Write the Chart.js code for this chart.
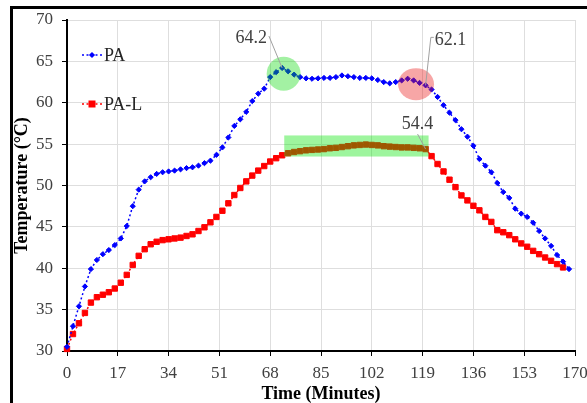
<!DOCTYPE html>
<html>
<head>
<meta charset="utf-8">
<script src="https://cdn.jsdelivr.net/npm/chart.js@4.4.1/dist/chart.umd.min.js"></script>
<style>
  html, body { margin: 0; padding: 0; background: #fff; overflow: hidden; }
  #area { position: absolute; left: 0; top: 0; width: 620px; height: 410px; }
  #moldura { position: absolute; left: 10px; top: 6px; width: 620px; height: 430px; border: 3px solid #000; pointer-events: none; }
</style>
</head>
<body>
<div id="area"><canvas id="grafico" width="620" height="410"></canvas></div>
<div id="moldura"></div>
<script>
// Dados (tempo em minutos, temperatura em °C)
const minutos = [
    0, 2, 4, 6, 8, 10, 12, 14, 16, 18,
    20, 22, 24, 26, 28, 30, 32, 34, 36, 38,
    40, 42, 44, 46, 48, 50, 52, 54, 56, 58,
    60, 62, 64, 66, 68, 70, 72, 74, 76, 78,
    80, 82, 84, 86, 88, 90, 92, 94, 96, 98,
    100, 102, 104, 106, 108, 110, 112, 114, 116, 118,
    120, 122, 124, 126, 128, 130, 132, 134, 136, 138,
    140, 142, 144, 146, 148, 150, 152, 154, 156, 158,
    160, 162, 164, 166, 168
]

const tempPA = [
    30.5, 33.0, 35.4, 37.8, 39.9, 41.0, 41.7, 42.2, 42.8, 43.6,
    45.1, 47.5, 49.5, 50.5, 51.0, 51.4, 51.6, 51.7, 51.8, 51.95,
    52.1, 52.2, 52.4, 52.7, 53.0, 53.7, 54.6, 55.8, 57.2, 58.0,
    58.9, 60.2, 61.1, 61.7, 63.1, 63.7, 64.2, 63.8, 63.4, 63.1,
    62.95, 62.9, 62.95, 63.0, 63.0, 63.1, 63.3, 63.2, 63.1, 63.0,
    63.0, 62.95, 62.75, 62.5, 62.35, 62.5, 62.7, 62.9, 62.7, 62.4,
    62.1, 61.6, 60.7, 59.7, 58.8, 57.9, 56.8, 55.9, 54.8, 53.2,
    52.4, 51.6, 50.3, 49.2, 48.5, 47.2, 46.6, 46.2, 45.5, 44.5,
    43.6, 42.7, 41.6, 40.8, 39.9
]

const tempPAL = [
    30.25, 32.05, 33.35, 34.6, 35.85, 36.5, 36.8, 37.1, 37.55, 38.25,
    39.2, 40.4, 41.5, 42.3, 42.9, 43.2, 43.4, 43.5, 43.6, 43.7,
    43.9, 44.1, 44.5, 44.95, 45.55, 46.2, 46.95, 47.85, 48.85, 49.7,
    50.5, 51.2, 51.8, 52.35, 52.9, 53.3, 53.65, 53.9, 54.05, 54.15,
    54.25, 54.3, 54.35, 54.4, 54.5, 54.55, 54.65, 54.75, 54.85, 54.9,
    54.95, 54.9, 54.85, 54.75, 54.7, 54.65, 54.6, 54.6, 54.55, 54.5,
    54.4, 53.55, 52.6, 51.7, 50.7, 49.8, 48.8, 48.2, 47.55, 47.0,
    46.2, 45.6, 44.6, 44.35, 44.0, 43.5, 43.0, 42.6, 42.1, 41.7,
    41.3, 40.9, 40.5, 40.1, null
]

const ticksX = [0, 17, 34, 51, 68, 85, 102, 119, 136, 153, 170]
const ticksY = [30, 35, 40, 45, 50, 55, 60, 65, 70]

const fonte = 'Liberation Serif, Times New Roman, serif'
const corTexto = '#404040'

function pontos(valores){
    const lista = []
    for(let i = 0; i < minutos.length; i++){
        lista.push({ x: minutos[i], y: valores[i] })
    }
    return lista
}

// Marcacoes por cima das curvas
const rotulos = [
    { serie: 0, indice: 36, dx: -31, dy: -30 },
    { serie: 0, indice: 60, dx: 25, dy: -45 },
    { serie: 1, indice: 60, dx: -8, dy: -25 }
]

const circulos = [
    { x: 72.5, y: 63.5, rx: 17, ry: 17, cor: 'rgba(0, 215, 0, 0.36)' },
    { x: 116.8, y: 62.25, rx: 18, ry: 16, cor: 'rgba(235, 20, 20, 0.38)' }
]

const faixa = { x0: 72.7, x1: 121, y0: 53.5, y1: 56.05, cor: 'rgba(0, 230, 0, 0.38)' }

const destaques = {
    id: 'destaques',
    afterDatasetsDraw(chart){
        const ctx = chart.ctx
        const sx = chart.scales.x
        const sy = chart.scales.y

        ctx.save()
        for(const c of circulos){
            ctx.fillStyle = c.cor
            ctx.beginPath()
            ctx.ellipse(sx.getPixelForValue(c.x), sy.getPixelForValue(c.y), c.rx, c.ry, 0, 0, Math.PI * 2)
            ctx.fill()
        }

        const fx0 = sx.getPixelForValue(faixa.x0)
        const fx1 = sx.getPixelForValue(faixa.x1)
        const fy0 = sy.getPixelForValue(faixa.y1)
        const fy1 = sy.getPixelForValue(faixa.y0)
        ctx.fillStyle = faixa.cor
        ctx.fillRect(fx0, fy0, fx1 - fx0, fy1 - fy0)

        ctx.font = '18px ' + fonte
        ctx.textAlign = 'center'
        ctx.textBaseline = 'middle'
        for(const r of rotulos){
            const valor = chart.data.datasets[r.serie].data[r.indice]
            const px = sx.getPixelForValue(valor.x)
            const py = sy.getPixelForValue(valor.y)
            const tx = px + r.dx
            const ty = py + r.dy
            const texto = valor.y.toFixed(1)
            const w = ctx.measureText(texto).width

            // linha guia
            ctx.strokeStyle = '#a0a0a0'
            ctx.lineWidth = 1
            ctx.beginPath()
            if(r.dx < -20){
                ctx.moveTo(tx + w / 2 + 2, ty - 2)
            }else if(r.dx > 0){
                ctx.moveTo(tx - w / 2 - 1, ty - 3)
                ctx.lineTo(tx - w / 2 - 4, ty - 3)
            }else{
                ctx.moveTo(tx, ty + 10)
            }
            ctx.lineTo(px, py)
            ctx.stroke()

            ctx.fillStyle = corTexto
            ctx.fillText(texto, tx, ty)
        }
        ctx.restore()
    }
}

// Legenda desenhada dentro da area do grafico
const legenda = {
    id: 'legendaInterna',
    afterDraw(chart){
        const ctx = chart.ctx
        const a = chart.chartArea
        chart.data.datasets.forEach((ds, i) => {
            const y = a.top + 35 + i * 49
            const x0 = a.left + 15
            ctx.save()
            ctx.strokeStyle = ds.borderColor
            ctx.lineWidth = ds.borderWidth
            ctx.setLineDash(ds.borderDash)
            ctx.beginPath()
            ctx.moveTo(x0, y)
            ctx.lineTo(x0 + 20, y)
            ctx.stroke()
            ctx.setLineDash([])

            ctx.fillStyle = ds.backgroundColor
            ctx.beginPath()
            if(ds.pointStyle === 'rectRot'){
                const r = ds.pointRadius + 0.5
                ctx.moveTo(x0 + 10 - r, y)
                ctx.lineTo(x0 + 10, y - r)
                ctx.lineTo(x0 + 10 + r, y)
                ctx.lineTo(x0 + 10, y + r)
                ctx.closePath()
            }else{
                ctx.rect(x0 + 10 - 3.5, y - 3.5, 7, 7)
            }
            ctx.fill()

            ctx.fillStyle = '#262626'
            ctx.font = '18px ' + fonte
            ctx.textAlign = 'left'
            ctx.textBaseline = 'alphabetic'
            ctx.fillText(ds.label, x0 + 22, y + 6)
            ctx.restore()
        })
    }
}

const ctx = document.getElementById('grafico')

new Chart(ctx, {
    type: 'line',
    data: {
        datasets: [
            {
                label: 'PA',
                data: pontos(tempPA),
                borderColor: '#0000ff',
                backgroundColor: '#0000ff',
                borderWidth: 1.5,
                borderDash: [2, 2.5],
                pointStyle: 'rectRot',
                pointRadius: 2.6,
                pointBorderWidth: 1,
                tension: 0,
                clip: 8
            },
            {
                label: 'PA-L',
                data: pontos(tempPAL),
                borderColor: '#ff0000',
                backgroundColor: '#ff0000',
                borderWidth: 1.5,
                borderDash: [2, 2.5],
                pointStyle: 'rect',
                pointRadius: 3.8,
                pointBorderWidth: 1,
                tension: 0,
                clip: 8
            }
        ]
    },
    options: {
        responsive: false,
        animation: false,
        layout: { padding: { top: 20, right: 45, left: 0, bottom: 0 } },
        plugins: {
            legend: { display: false },
            tooltip: { enabled: false }
        },
        scales: {
            x: {
                type: 'linear',
                min: 0,
                max: 170,
                afterBuildTicks: (s) => { s.ticks = ticksX.map(v => ({ value: v })) },
                afterFit: (s) => { s.height = 59 },
                ticks: { font: { family: fonte, size: 17 }, color: corTexto, padding: 7, maxRotation: 0, autoSkip: false },
                grid: { color: '#dedede', tickColor: '#000', tickLength: 5 },
                border: { color: '#000', width: 2 },
                title: {
                    display: true,
                    text: 'Time (Minutes)',
                    color: '#000',
                    font: { family: fonte, size: 18, weight: 'bold' },
                    padding: { top: 0, bottom: 5 }
                }
            },
            y: {
                min: 30,
                max: 70,
                afterBuildTicks: (s) => { s.ticks = ticksY.map(v => ({ value: v })) },
                afterFit: (s) => { s.width = 67 },
                ticks: { font: { family: fonte, size: 17 }, color: corTexto, padding: 9 },
                grid: { color: '#dedede', tickColor: '#000', tickLength: 5 },
                border: { color: '#000', width: 2 },
                title: {
                    display: true,
                    text: 'Temperature (°C)',
                    color: '#000',
                    font: { family: fonte, size: 18, weight: 'bold' },
                    padding: { top: 12, bottom: 0 }
                }
            }
        }
    },
    plugins: [destaques, legenda]
})
</script>
</body>
</html>
